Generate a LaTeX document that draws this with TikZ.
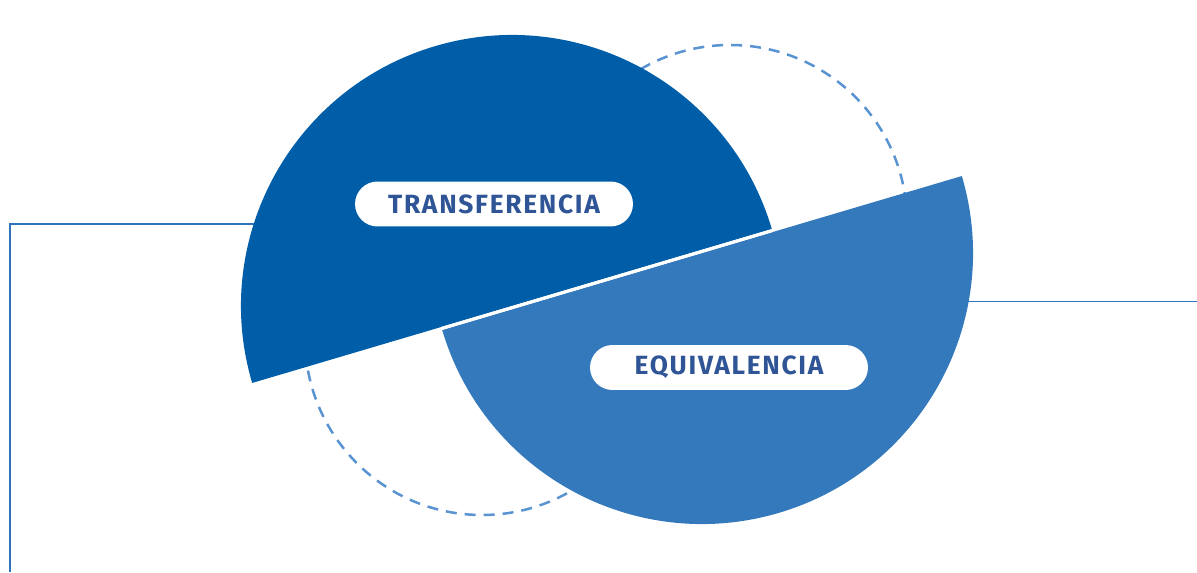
\documentclass[tikz,border=0pt]{standalone}
\usepackage{fontspec}
\setmainfont{Fira Sans}
\newfontfamily\pillfont[LetterSpace=6.5]{Fira Sans}
\usetikzlibrary{calc}
\definecolor{darkdisc}{HTML}{005EA9}
\definecolor{lightdisc}{HTML}{3479BC}
\definecolor{ringblue}{HTML}{5A93D2}
\definecolor{lineblue}{HTML}{2F74BA}
\definecolor{labelblue}{HTML}{2F5597}
\tikzset{dashed ring/.style = {draw=ringblue, line width=0.05cm, dash pattern=on 0.22cm off 0.16cm}}
\tikzset{frame line/.style = {draw=lineblue, line width=0.03cm}}
\tikzset{pill label/.style = {fill=white, rounded corners=0.45cm, minimum width=5.56cm,
    minimum height=0.9cm, inner sep=0pt, text=labelblue,
    font=\pillfont\fontsize{15}{18}\selectfont\bfseries}}

\begin{document}
\begin{tikzpicture}[x=0.02cm, y=0.02cm]
  \useasboundingbox (0,0) rectangle (1197,572);

  % dashed rings behind the halves
  \coordinate (ringTop) at (730,350);
  \coordinate (ringBottom) at (482,234);
  \draw[dashed ring] (ringTop) circle[radius=177];
  \draw[dashed ring] (ringBottom) circle[radius=177];

  % thin frame lines
  \coordinate (leftCorner) at (10,348);
  \coordinate (leftEnd) at (320,348);
  \coordinate (leftFoot) at (10,0);
  \coordinate (rightStart) at (900,270.5);
  \coordinate (rightEnd) at (1197,270.5);
  \draw[frame line] (leftFoot) -- (leftCorner) -- (leftEnd);
  \draw[frame line] (rightStart) -- (rightEnd);

  % the two halves
  \coordinate (transfer) at (512,266);
  \coordinate (equiv) at (702,319);
  \fill[darkdisc] (transfer) ++(16.5:271)
    arc[start angle=16.5, end angle=196.5, radius=271] -- cycle;
  \fill[lightdisc] (equiv) ++(16.5:271)
    arc[start angle=16.5, end angle=-163.5, radius=271] -- cycle;
  \coordinate (gap) at ($(transfer)!0.5!(equiv)$);
  \draw[white, line width=0.064cm] ($(gap)+(196.5:173)$) -- ($(gap)+(16.5:172)$);

  \node[pill label] (transferLabel) at (494,368) {TRANSFERENCIA};
  \node[pill label] (equivLabel) at (729,204.5) {EQUIVALENCIA};
\end{tikzpicture}
\end{document}
